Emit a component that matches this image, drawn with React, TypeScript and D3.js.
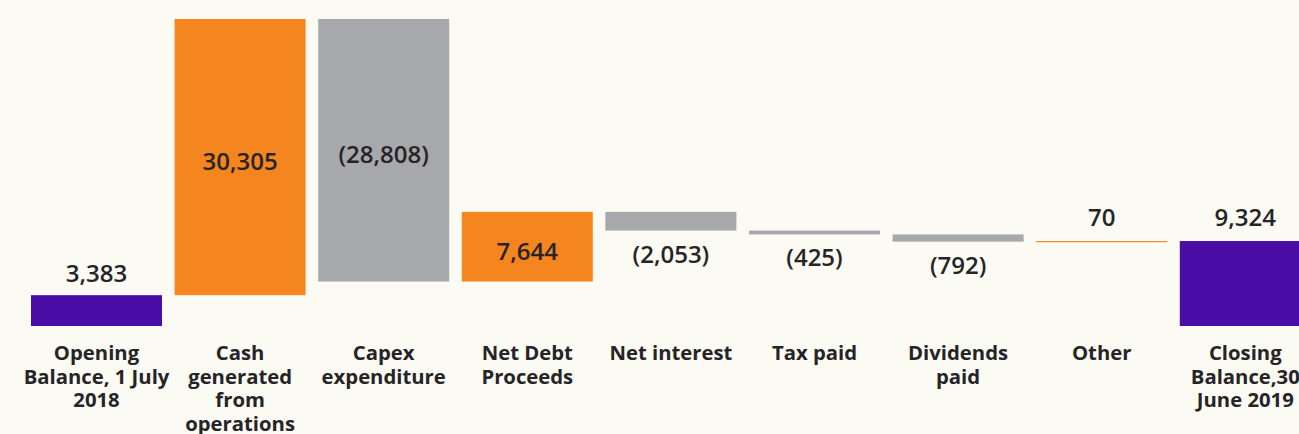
import React from "react";
import * as d3 from "d3";

const categories: string[][] = [
  ["Opening", "Balance, 1 July", "2018"],
  ["Cash", "generated", "from", "operations"],
  ["Capex", "expenditure"],
  ["Net Debt", "Proceeds"],
  ["Net interest"],
  ["Tax paid"],
  ["Dividends", "paid"],
  ["Other"],
  ["Closing", "Balance,30", "June 2019"],
];
const values: number[] = [3383, 30305, -28808, 7644, -2053, -425, -792, 70, 9324];
const kinds: string[] = ["total", "delta", "delta", "delta", "delta", "delta", "delta", "delta", "total"];
const valueLabels: string[] = ["3,383", "30,305", "(28,808)", "7,644", "(2,053)", "(425)", "(792)", "70", "9,324"];
const labelPos: string[] = ["above", "inside", "inside", "inside", "below", "below", "below", "above", "above"];

const W = 1299;
const H = 434;
const COLORS = { total: "#4a0ea6", up: "#f5861f", down: "#a7a8ab" };

export default function App() {
  let run = 0;
  const bars = values.map((v, i) => {
    let y0: number, y1: number, color: string;
    if (kinds[i] === "total") {
      y0 = 0;
      y1 = v;
      run = v;
      color = COLORS.total;
    } else {
      y0 = run;
      y1 = run + v;
      run = y1;
      color = v >= 0 ? COLORS.up : COLORS.down;
    }
    return { i, lo: Math.min(y0, y1), hi: Math.max(y0, y1), color };
  });
  const maxV = d3.max(bars, (b) => b.hi) as number;

  const x = d3
    .scaleBand<number>()
    .domain(values.map((_, i) => i))
    .range([24.7, 24.7 + 9 * 143.6])
    .paddingInner(0.0877)
    .paddingOuter(0.0877 / 2);
  const y = d3.scaleLinear().domain([0, maxV]).range([326, 19]);

  const font = "'Open Sans', 'Noto Sans', sans-serif";
  const textColor = "#262426";

  return (
    <svg
      width={W}
      height={H}
      style={{ position: "absolute", left: 0, top: 0, background: "#fbfaf3" }}
    >
      <rect x={0} y={0} width={W} height={H} fill="#fbfaf3" />
      {bars.map((b) => {
        const bx = x(b.i) as number;
        const bw = x.bandwidth();
        const top = y(b.hi);
        const bottom = y(b.lo);
        const h = Math.max(1.2, bottom - top);
        const cx = bx + bw / 2;
        let ly: number;
        if (labelPos[b.i] === "above") ly = top - (b.i === 0 ? 13 : 15);
        else if (labelPos[b.i] === "below") ly = top + h + 32;
        else ly = (top + bottom) / 2 + 13;
        return (
          <g key={b.i}>
            <rect x={bx} y={top} width={bw} height={h} fill={b.color} />
            <text
              x={cx}
              y={ly}
              textAnchor="middle"
              fontFamily={font}
              fontWeight={600}
              fontSize={24}
              fill={textColor}
            >
              {valueLabels[b.i]}
            </text>
            <text
              x={cx}
              y={360}
              textAnchor="middle"
              fontFamily={font}
              fontWeight={700}
              fontSize={20.3}
              fill={textColor}
            >
              {categories[b.i].map((line, k) => (
                <tspan key={k} x={cx} dy={k === 0 ? 0 : 23.5}>
                  {line}
                </tspan>
              ))}
            </text>
          </g>
        );
      })}
    </svg>
  );
}
